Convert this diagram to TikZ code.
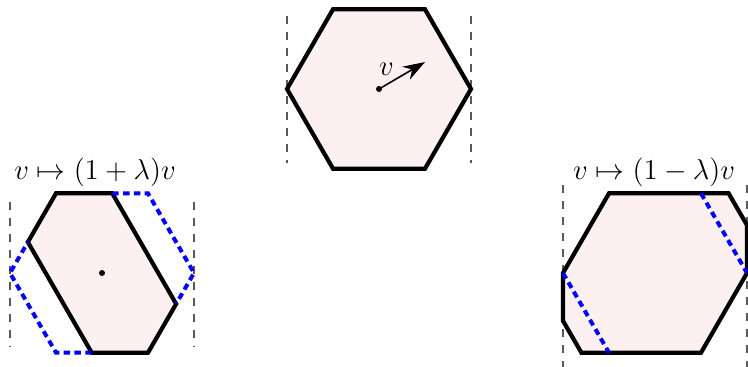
\documentclass[tikz,border=0pt]{standalone}
\usetikzlibrary{arrows.meta}
\definecolor{hexfill}{RGB}{253,240,240}
\begin{document}
\begin{tikzpicture}[x=0.5pt,y=-0.5pt,
  hexshape/.style={draw=black, line width=2.1pt, fill=hexfill},
  origedge/.style={draw=blue, line width=2pt, dash pattern=on 3.2pt off 2.2pt},
  guide/.style={draw=black!65, line width=0.7pt, dash pattern=on 4pt off 4pt},
  maplabel/.style={font=\fontsize{14.5}{17}\selectfont, inner sep=0pt},
  vecdlabel/.style={font=\fontsize{13.5}{16}\selectfont, inner sep=0pt},
  centerdot/.style={fill=black}]
\useasboundingbox (0,0) rectangle (748,366);

% ---------- top: original hexagon with vector v ----------
\begin{scope}[shift={(379,89)}, x=46pt, y=46pt]
  \coordinate (gt1a) at (-1,0.793); \coordinate (gt1b) at (-1,-0.804);
  \coordinate (gt2a) at (1,0.793);  \coordinate (gt2b) at (1,-0.804);
  \draw[guide] (gt1a) -- (gt1b);
  \draw[guide] (gt2a) -- (gt2b);
  \draw[hexshape] (-1,0) -- (-0.5,0.866) -- (0.5,0.866) -- (1,0) -- (0.5,-0.866) -- (-0.5,-0.866) -- cycle;
  \coordinate (o1) at (0,0);
  \coordinate (v1) at (0.5,0.293);
  \fill[centerdot] (o1) circle (1.5pt);
  \draw[line width=0.8pt, -{Stealth[length=11pt,width=7.5pt]}] (o1) -- (v1);
  \node[vecdlabel] (vlab) at (0.082,0.217) {$v$};
\end{scope}

% ---------- left: v -> (1+lambda) v ----------
\begin{scope}[shift={(102,273)}, x=46pt, y=46pt]
  \coordinate (gl1a) at (-1,0.772); \coordinate (gl1b) at (-1,-0.804);
  \coordinate (gl2a) at (1,0.772);  \coordinate (gl2b) at (1,-0.804);
  \draw[guide] (gl1a) -- (gl1b);
  \draw[guide] (gl2a) -- (gl2b);
  \draw[hexshape] (-0.5,0.866) -- (0.112,0.866) -- (0.806,-0.336) -- (0.5,-0.866) -- (-0.112,-0.866) -- (-0.806,0.336) -- cycle;
  \draw[origedge] (0.112,0.866) -- (0.5,0.866) -- (1,0) -- (0.806,-0.336);
  \draw[origedge] (-0.112,-0.866) -- (-0.5,-0.866) -- (-1,0) -- (-0.806,0.336);
  \coordinate (o2) at (0,0);
  \fill[centerdot] (o2) circle (1.5pt);
\end{scope}
\node[maplabel] (lab1) at (95,172) {$v\mapsto(1+\lambda)v$};

% ---------- right: v -> (1-lambda) v ----------
\begin{scope}[shift={(655,273)}, x=46pt, y=46pt]
  \coordinate (gr1a) at (-1,0.957); \coordinate (gr1b) at (-1,-1.02);
  \coordinate (gr2a) at (1,0.957);  \coordinate (gr2b) at (1,-1.02);
  \draw[guide] (gr1a) -- (gr1b);
  \draw[guide] (gr2a) -- (gr2b);
  \draw[hexshape] (-0.5,0.866) -- (0.80,0.866) -- (1,0.52) -- (1,0) -- (0.5,-0.866) -- (-0.80,-0.866) -- (-1,-0.52) -- (-1,0) -- cycle;
  \draw[origedge] (-1,0) -- (-0.5,-0.866);
  \draw[origedge] (0.5,0.866) -- (1,0);
\end{scope}
\node[maplabel] (lab2) at (654,172) {$v\mapsto(1-\lambda)v$};
\end{tikzpicture}
\end{document}
